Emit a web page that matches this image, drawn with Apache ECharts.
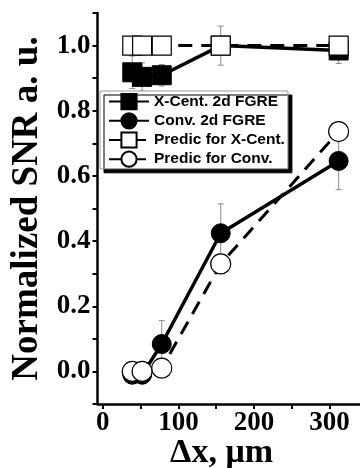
<!DOCTYPE html>
<html>
<head>
<meta charset="utf-8">
<script src="https://cdn.jsdelivr.net/npm/echarts@6/dist/echarts.min.js"></script>
<style>
  html, body { margin: 0; padding: 0; background: #fff; }
  #chart { width: 360px; height: 468px; }
</style>
</head>
<body>
<div id="chart"></div>
<script>
// pixel spacing, um
const dx = [39, 52, 78, 156, 312]

const xCent = [0.918, 0.904, 0.909, 1.0, 0.985]
const xCentErr = [0.05, 0.043, 0.033, 0.06, 0.04]
const conv = [-0.01, -0.01, 0.084, 0.424, 0.646]
const convErr = [0, 0, 0.072, 0.09, 0.088]
const predXCent = [1.0, 1.0, 1.0, 1.0, 1.0]
const predConv = [0, 0, 0.01, 0.33, 0.736]

const xTicks = [0, 50, 100, 150, 200, 250, 300]
const xLabels = [0, 100, 200, 300]

const SERIF = '"Liberation Serif", "Times New Roman", serif'
const SANS = '"Liberation Sans", Arial, sans-serif'

const chart = echarts.init(document.getElementById('chart'))

function pairs(ys) {
  return dx.map((x, i) => [x, ys[i]])
}

function errData(ys, errs) {
  return dx.map((x, i) => [x, ys[i], errs[i]]).filter(d => d[2] > 0)
}

function renderErr(params, api) {
  const x = api.value(0)
  const y = api.value(1)
  const e = api.value(2)
  const top = api.coord([x, y + e])
  const bot = api.coord([x, y - e])
  const cap = 3
  const style = { stroke: '#8a8a8a', lineWidth: 1 }
  return {
    type: 'group',
    children: [
      { type: 'line', shape: { x1: top[0], y1: top[1], x2: bot[0], y2: bot[1] }, style },
      { type: 'line', shape: { x1: top[0] - cap, y1: top[1], x2: top[0] + cap, y2: top[1] }, style },
      { type: 'line', shape: { x1: bot[0] - cap, y1: bot[1], x2: bot[0] + cap, y2: bot[1] }, style },
    ],
  }
}

const filledLine = { color: '#000', width: 3.5 }
const dashedLine = { color: '#000', width: 3, type: [14, 9] }

chart.setOption({
  backgroundColor: '#fff',
  animation: false,
  grid: { left: 97.5, right: -3.6, top: 13, bottom: 64, containLabel: false, outerBoundsMode: 'none' },
  legend: {
    orient: 'vertical',
    left: 100,
    top: 91,
    itemWidth: 40,
    itemHeight: 19,
    itemGap: 2,
    padding: [2, 3, 1, 8],
    backgroundColor: '#fff',
    borderColor: '#9a9a9a',
    borderWidth: 1,
    shadowColor: '#000',
    shadowBlur: 0,
    shadowOffsetX: 4,
    shadowOffsetY: 4,
    data: ['X-Cent. 2d FGRE', 'Conv. 2d FGRE', 'Predic for X-Cent.', 'Predic for Conv.'],
    textStyle: { color: '#000', fontFamily: SANS, fontWeight: 'bold', fontSize: 15.5 },
  },
  xAxis: {
    type: 'value',
    min: -7,
    max: 345,
    name: 'Δx, μm',
    nameLocation: 'middle',
    nameMoveOverlap: false,
    nameGap: 32,
    nameTextStyle: {
      color: '#000', fontFamily: SERIF, fontWeight: 'bold', fontSize: 34,
      padding: [0, 18, 0, 0],
    },
    splitLine: { show: false },
    axisLine: { onZero: false, lineStyle: { color: '#000', width: 2.5 } },
    axisTick: { inside: false, length: 5, lineStyle: { color: '#000', width: 2 }, customValues: xTicks },
    axisLabel: {
      color: '#000', fontFamily: SERIF, fontWeight: 'bold', fontSize: 27, margin: 6,
      customValues: xLabels,
    },
  },
  yAxis: {
    type: 'value',
    min: -0.1,
    max: 1.1,
    interval: 0.1,
    name: 'Normalized SNR a. u.',
    nameLocation: 'middle',
    nameGap: 48,
    nameTextStyle: { color: '#000', fontFamily: SERIF, fontWeight: 'bold', fontSize: 37 },
    splitLine: { show: false },
    axisLine: { onZero: false, lineStyle: { color: '#000', width: 2.5 } },
    axisTick: { inside: false, length: 5, lineStyle: { color: '#000', width: 2 } },
    axisLabel: {
      color: '#000', fontFamily: SERIF, fontWeight: 'bold', fontSize: 27, margin: 7,
      showMinLabel: true, showMaxLabel: true,
      formatter(v) {
        const r = Math.round(v * 10)
        if (r < 0 || r > 10 || r % 2 !== 0) return ''
        return (r / 10).toFixed(1)
      },
    },
  },
  series: [
    {
      type: 'custom', name: 'errXCent', z: 1,
      renderItem: renderErr, data: errData(xCent, xCentErr),
    },
    {
      type: 'custom', name: 'errConv', z: 1,
      renderItem: renderErr, data: errData(conv, convErr),
    },
    {
      name: 'X-Cent. 2d FGRE', type: 'line', z: 2,
      data: pairs(xCent), symbol: 'rect', symbolSize: 19,
      lineStyle: filledLine, itemStyle: { color: '#000', borderColor: '#000', borderWidth: 1 },
    },
    {
      name: 'Conv. 2d FGRE', type: 'line', z: 2,
      data: pairs(conv), symbol: 'circle', symbolSize: 19,
      lineStyle: filledLine, itemStyle: { color: '#000', borderColor: '#000', borderWidth: 1 },
    },
    {
      name: 'Predic for X-Cent.', type: 'line', z: 3,
      data: pairs(predXCent), symbol: 'rect', symbolSize: 19,
      lineStyle: dashedLine, itemStyle: { color: '#fff', borderColor: '#000', borderWidth: 1.2 },
    },
    {
      name: 'Predic for Conv.', type: 'line', z: 3,
      data: pairs(predConv), symbol: 'circle', symbolSize: 20,
      lineStyle: dashedLine, itemStyle: { color: '#fff', borderColor: '#000', borderWidth: 1.2 },
    },
  ],
})
</script>
</body>
</html>
